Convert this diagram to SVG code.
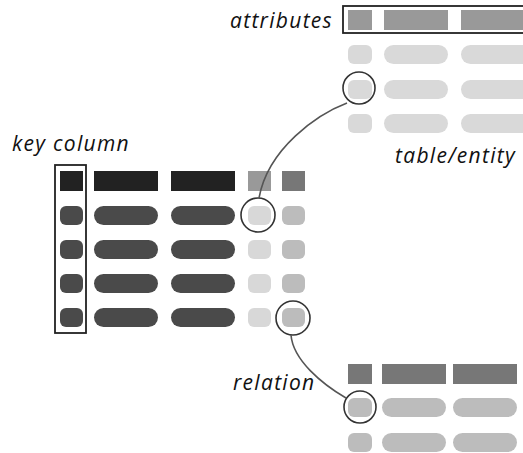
<svg xmlns="http://www.w3.org/2000/svg" width="523" height="453" viewBox="0 0 523 453">
<style>
text{font-family:"Open Sans","Noto Sans","DejaVu Sans",sans-serif;font-style:italic;font-size:21px;letter-spacing:1.3px;fill:#111}
.hl{fill:none;stroke:#333;stroke-width:1.6}
.box{fill:none;stroke:#222;stroke-width:1.8}
.con{fill:none;stroke:#555;stroke-width:1.6}
</style>
<rect width="523" height="453" fill="#fff"/>
<g id="main-table">
  <g fill="#222">
    <rect x="60" y="171" width="23" height="20"/>
    <rect x="94" y="171" width="64" height="20"/>
    <rect x="171" y="171" width="64" height="20"/>
  </g>
  <rect x="248" y="171" width="23" height="20" fill="#999"/>
  <rect x="282" y="171" width="23" height="20" fill="#777"/>
  <g fill="#4a4a4a">
    <rect x="60" y="206" width="23" height="19" rx="6"/>
    <rect x="94" y="206" width="64" height="19" rx="9.5"/>
    <rect x="171" y="206" width="64" height="19" rx="9.5"/>
    <rect x="60" y="240" width="23" height="19" rx="6"/>
    <rect x="94" y="240" width="64" height="19" rx="9.5"/>
    <rect x="171" y="240" width="64" height="19" rx="9.5"/>
    <rect x="60" y="274" width="23" height="19" rx="6"/>
    <rect x="94" y="274" width="64" height="19" rx="9.5"/>
    <rect x="171" y="274" width="64" height="19" rx="9.5"/>
    <rect x="60" y="308" width="23" height="19" rx="6"/>
    <rect x="94" y="308" width="64" height="19" rx="9.5"/>
    <rect x="171" y="308" width="64" height="19" rx="9.5"/>
  </g>
  <g fill="#d8d8d8">
    <rect x="248" y="206" width="23" height="19" rx="6"/>
    <rect x="248" y="240" width="23" height="19" rx="6"/>
    <rect x="248" y="274" width="23" height="19" rx="6"/>
    <rect x="248" y="308" width="23" height="19" rx="6"/>
  </g>
  <g fill="#bcbcbc">
    <rect x="282" y="206" width="23" height="19" rx="6"/>
    <rect x="282" y="240" width="23" height="19" rx="6"/>
    <rect x="282" y="274" width="23" height="19" rx="6"/>
    <rect x="282" y="308" width="23" height="19" rx="6"/>
  </g>
  <rect class="box" x="55" y="165" width="31" height="168"/>
  <text x="12" y="151">key column</text>
</g>
<g id="entity-table">
  <g fill="#999">
    <rect x="348" y="10" width="24" height="20"/>
    <rect x="384" y="10" width="64" height="20"/>
    <rect x="461" y="10" width="70" height="20"/>
  </g>
  <rect class="box" x="343" y="6" width="190" height="27"/>
  <g fill="#d9d9d9">
    <rect x="348" y="45" width="24" height="19" rx="6"/>
    <rect x="384" y="45" width="64" height="19" rx="9.5"/>
    <rect x="461" y="45" width="70" height="19" rx="9.5"/>
    <rect x="348" y="80" width="24" height="19" rx="6"/>
    <rect x="384" y="80" width="64" height="19" rx="9.5"/>
    <rect x="461" y="80" width="70" height="19" rx="9.5"/>
    <rect x="348" y="114" width="24" height="19" rx="6"/>
    <rect x="384" y="114" width="64" height="19" rx="9.5"/>
    <rect x="461" y="114" width="70" height="19" rx="9.5"/>
  </g>
  <text x="230" y="28">attributes</text>
  <text x="395" y="163">table/entity</text>
</g>
<g id="relation-table">
  <g fill="#777">
    <rect x="348" y="364" width="24" height="20"/>
    <rect x="382" y="364" width="64" height="20"/>
    <rect x="453" y="364" width="64" height="20"/>
  </g>
  <g fill="#bcbcbc">
    <rect x="348" y="398" width="24" height="19" rx="6"/>
    <rect x="382" y="398" width="64" height="19" rx="9.5"/>
    <rect x="453" y="398" width="64" height="19" rx="9.5"/>
    <rect x="348" y="433" width="24" height="19" rx="6"/>
    <rect x="382" y="433" width="64" height="19" rx="9.5"/>
    <rect x="453" y="433" width="64" height="19" rx="9.5"/>
  </g>
  <text x="233" y="390">relation</text>
</g>
<g id="connectors">
  <circle class="hl" cx="359" cy="88" r="16"/>
  <circle class="hl" cx="258" cy="215" r="17"/>
  <circle class="hl" cx="293" cy="318" r="17"/>
  <circle class="hl" cx="360" cy="407" r="16"/>
  <path class="con" d="M347,103 C318,114 268,148 259,198"/>
  <path class="con" d="M291,335 C293,360 322,384 346,398"/>
</g>
</svg>
